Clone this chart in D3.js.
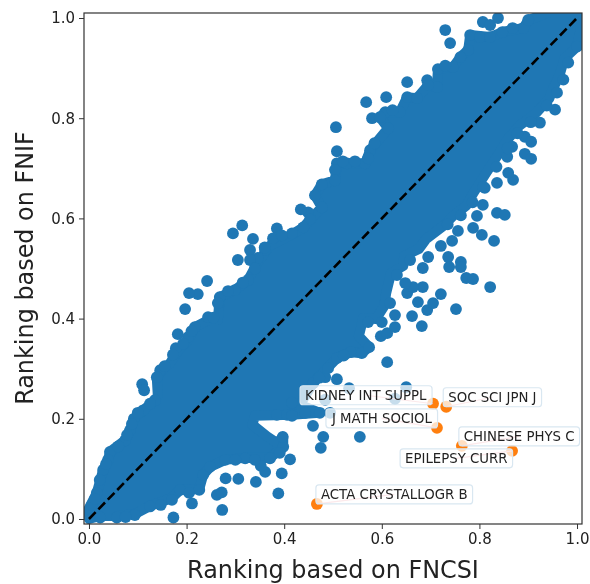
<!DOCTYPE html>
<html lang="en">
  <head>
    <meta charset="UTF-8" />
    <script src="https://d3js.org/d3.v7.min.js"></script>
    <title>Ranking based on FNCSI vs FNIF</title>
    <style>
      body { margin: 0; background: #fff; }
      svg { display: block; filter: blur(0.45px); }
      text { font-family: "DejaVu Sans", sans-serif; fill: #222; }
    </style>
  </head>
  <body>
    <div id="chart-container"></div>

    <script>
      const tickValues = [0, 0.2, 0.4, 0.6, 0.8, 1.0];

      // dense middle of the cloud, too many overlapping dots to read one by one: outline
      const denseOutline = [
        [0,0],[.023,.006],[.057,.006],[.094,.010],[.125,.026],[.170,.042],[.187,.058],[.226,.060],[.234,.088],
        [.248,.104],[.279,.118],[.320,.122],[.357,.122],[.371,.122],[.398,.144],[.398,.164],[.385,.152],[.365,.165],
        [.335,.188],[.340,.206],[.416,.208],[.473,.212],[.432,.228],[.459,.271],[.488,.301],[.508,.321],[.537,.333],
        [.559,.331],[.574,.343],[.553,.365],[.562,.401],[.588,.399],[.605,.425],[.609,.451],[.619,.491],[.644,.505],
        [.646,.525],[.676,.539],[.691,.559],[.726,.585],[.746,.605],[.773,.625],[.788,.651],[.814,.691],[.841,.731],
        [.859,.759],[.882,.785],[.917,.811],[.943,.839],[.951,.859],[.964,.885],[.974,.919],[1.0,.943],[1.006,.971],
        [1.012,1.012],[.945,1.012],[.900,.996],[.890,.980],[.847,.972],[.822,.962],[.781,.966],[.777,.936],[.761,.922],
        [.746,.902],[.715,.898],[.713,.862],[.695,.866],[.672,.840],[.652,.842],[.637,.812],[.607,.812],[.596,.802],
        [.613,.780],[.596,.760],[.576,.736],[.566,.710],[.508,.710],[.504,.676],[.477,.668],[.463,.646],[.477,.622],
        [.453,.598],[.439,.582],[.412,.566],[.371,.546],[.346,.513],[.326,.477],[.299,.457],[.268,.443],[.264,.397],
        [.244,.397],[.217,.383],[.203,.357],[.183,.337],[.166,.311],[.146,.293],[.139,.281],[.141,.247],[.135,.237],
        [.111,.217],[.092,.200],[.084,.177],[.074,.157],[.043,.134],[.039,.118],[.029,.098],[.016,.052],[-.002,.018]
      ];

      // [FNCSI rank, FNIF rank] of the journals that can be told apart at the rim of the cloud
      const journalPoints = [
        [.023,.003],[.057,.003],[.094,.008],[.125,.025],[.170,.038],[.173,.003],[.187,.058],[.211,.031],[.226,.058],
        [.234,.088],[.248,.104],[.262,.048],[.272,.053],[.273,.018],[.279,.118],[.280,.081],[.306,.080],[.320,.121],
        [.342,.074],[.361,.094],[.352,.106],[.371,.121],[.388,.051],[.395,.091],[.412,.119],[.398,.144],[.397,.164],
        [.391,.132],[.385,.208],[.406,.208],[.416,.206],[.416,.232],[.443,.212],[.473,.212],[.494,.212],[.459,.186],
        [.480,.164],[.475,.142],[.555,.164],[.443,.248],[.484,.238],[.533,.261],[.627,.240],[.650,.263],[.459,.271],
        [.484,.283],[.508,.279],[.490,.301],[.508,.321],[.537,.333],[.559,.331],[.574,.343],[.611,.313],[.598,.365],
        [.611,.371],[.627,.383],[.627,.407],[.600,.393],[.572,.393],[.617,.431],[.662,.405],[.682,.385],[.693,.417],
        [.705,.431],[.752,.419],[.721,.449],[.684,.463],[.674,.433],[.652,.451],[.664,.463],[.648,.471],[.631,.487],
        [.658,.517],[.684,.501],[.695,.523],[.721,.545],[.736,.523],[.738,.503],[.762,.513],[.762,.503],[.773,.481],
        [.787,.479],[.822,.463],[.744,.555],[.756,.575],[.787,.581],[.805,.567],[.830,.555],[.795,.605],[.807,.627],
        [.836,.611],[.852,.607],[.869,.677],[.859,.691],[.836,.671],[.811,.661],[.857,.723],[.867,.743],[.893,.763],
        [.906,.753],[.893,.729],[.906,.719],[.924,.791],[.955,.817],[.959,.851],[.972,.877],[.982,.911],[1.0,.943],
        [.807,.992],[.822,.986],[.838,1.0],[.730,.976],[.740,.950],[.781,.966],[.801,.962],[.822,.962],[.847,.972],
        [.890,.980],[.900,.996],[.777,.936],[.761,.922],[.746,.902],[.715,.898],[.713,.862],[.693,.876],[.695,.866],
        [.652,.872],[.652,.842],[.672,.840],[.568,.832],[.609,.842],[.580,.800],[.637,.812],[.607,.812],[.596,.802],
        [.613,.780],[.506,.782],[.508,.734],[.576,.736],[.566,.710],[.529,.710],[.508,.710],[.504,.697],[.504,.676],
        [.477,.668],[.463,.646],[.477,.622],[.449,.612],[.434,.618],[.453,.598],[.439,.582],[.416,.570],[.385,.580],
        [.377,.560],[.361,.537],[.336,.559],[.314,.586],[.295,.570],[.330,.537],[.346,.521],[.330,.517],[.305,.517],
        [.326,.477],[.299,.457],[.268,.443],[.264,.431],[.242,.475],[.223,.449],[.205,.451],[.197,.419],[.244,.403],
        [.217,.383],[.203,.363],[.182,.369],[.178,.341],[.146,.297],[.139,.283],[.109,.269],[.113,.257],[.135,.237],
        [.111,.217],[.092,.200],[.084,.177],[.074,.157],[.043,.134],[.039,.118],[.029,.098],[.016,.052],[.006,.028],
        [.735,.588],[.762,.606],[.786,.632],[.808,.663],[.835,.703],[.858,.740],[.878,.770],[.905,.792],[.938,.825],
        [.395,.566],[.360,.542],[.340,.500],[.315,.472],[.285,.455],[.255,.402],[.210,.375],[.193,.350],[.172,.328],
        [.155,.305],[.125,.230],[.100,.212],[.088,.190],[.078,.168],[.060,.145],[.035,.110],[.022,.078],[.012,.040],
        [.545,.714],[.520,.714],[.572,.720],[.585,.750],[.622,.816],[.730,.905],[.868,.980],[.147,.028],[.205,.052],
        [.300,.118],[.340,.118],[.075,.004],[.522,.326],[.472,.282]
      ];

      const outlierNames = ["KIDNEY INT SUPPL", "SOC SCI JPN J", "J MATH SOCIOL", "CHINESE PHYS C", "EPILEPSY CURR", "ACTA CRYSTALLOGR B"];
      const outlierFNCSI = [0.705, 0.732, 0.713, 0.764, 0.867, 0.467];
      const outlierFNIF = [0.23, 0.224, 0.182, 0.146, 0.136, 0.03];

      // where each label sits relative to its dot, in px
      const labelDx = [-128, 2, -105, 2, -107, 4];
      const labelDy = [-4, -5, -5, -5, 12, -5];

      const blue = "#1f77b4";
      const orange = "#ff7f0e";
      const dotRadius = 5.9;

      const margin = { top: 13, right: 8, bottom: 60, left: 84 };
      const frameRight = 590 - margin.right;
      const frameBottom = 584 - margin.bottom;

      const svg = d3
        .select("#chart-container")
        .append("svg")
        .attr("width", 590)
        .attr("height", 584);

      const x = d3.scaleLinear().domain([-0.0102, 1.0102]).range([margin.left, frameRight]);
      const y = d3.scaleLinear().domain([-0.01, 1.01]).range([frameBottom, margin.top]);

      svg
        .append("clipPath")
        .attr("id", "plot-area")
        .append("rect")
        .attr("x", margin.left)
        .attr("y", margin.top)
        .attr("width", frameRight - margin.left)
        .attr("height", frameBottom - margin.top);

      const plot = svg.append("g").attr("clip-path", "url(#plot-area)");

      const outline = d3
        .line()
        .x((d) => x(d[0]))
        .y((d) => y(d[1]))
        .curve(d3.curveLinearClosed);

      // the outline runs through dot centres, so stroke it a little under one dot wide
      plot
        .append("path")
        .attr("d", outline(denseOutline))
        .attr("fill", blue)
        .attr("stroke", blue)
        .attr("stroke-width", dotRadius * 1.7)
        .attr("stroke-linejoin", "round");

      plot
        .selectAll("circle.journal")
        .data(journalPoints)
        .join("circle")
        .attr("class", "journal")
        .attr("cx", (d) => x(d[0]))
        .attr("cy", (d) => y(d[1]))
        .attr("r", dotRadius)
        .attr("fill", blue);

      plot
        .selectAll("circle.outlier")
        .data(outlierNames)
        .join("circle")
        .attr("class", "outlier")
        .attr("cx", (d, i) => x(outlierFNCSI[i]))
        .attr("cy", (d, i) => y(outlierFNIF[i]))
        .attr("r", dotRadius)
        .attr("fill", orange);

      // diagonal
      plot
        .append("line")
        .attr("x1", x(0))
        .attr("y1", y(0))
        .attr("x2", x(1))
        .attr("y2", y(1))
        .attr("stroke", "#000")
        .attr("stroke-width", 2.6)
        .attr("stroke-dasharray", "9.5,4");

      // labels, box size comes from the text
      const labels = svg
        .selectAll("g.label")
        .data(outlierNames)
        .join("g")
        .attr("class", "label");

      labels.each(function (name, i) {
        const g = d3.select(this);
        const px = x(outlierFNCSI[i]);
        const py = y(outlierFNIF[i]);
        const connector = g.append("line").attr("stroke", "#f2a6ae").attr("stroke-width", 1.2);
        const box = g.append("rect");
        const text = g
          .append("text")
          .attr("x", px + labelDx[i])
          .attr("y", py + labelDy[i])
          .style("font-size", "13.3px")
          .text(name);
        const b = text.node().getBBox();
        connector
          .attr("x1", px)
          .attr("y1", py)
          .attr("x2", b.x + b.width / 2)
          .attr("y2", b.y + b.height / 2);
        box
          .attr("x", b.x - 5)
          .attr("y", b.y - 2)
          .attr("width", b.width + 10)
          .attr("height", b.height + 4)
          .attr("rx", 3)
          .attr("fill", "#fff")
          .attr("fill-opacity", 0.75)
          .attr("stroke", "#d9e7f1")
          .attr("stroke-width", 1.2);
      });

      // axes
      const xAxis = svg
        .append("g")
        .attr("transform", "translate(0," + frameBottom + ")")
        .call(d3.axisBottom(x).tickValues(tickValues).tickFormat(d3.format(".1f")).tickSizeOuter(0).tickSize(5).tickPadding(4));

      const yAxis = svg
        .append("g")
        .attr("transform", "translate(" + margin.left + ",0)")
        .call(d3.axisLeft(y).tickValues(tickValues).tickFormat(d3.format(".1f")).tickSizeOuter(0).tickSize(5).tickPadding(4));

      [xAxis, yAxis].forEach((axis) => {
        axis.select(".domain").remove();
        axis.selectAll("line").attr("stroke", "#333").attr("stroke-width", 1);
        axis.selectAll("text").style("font-size", "15px").style("font-family", '"DejaVu Sans", sans-serif').style("fill", "#222");
      });

      svg
        .append("rect")
        .attr("x", margin.left)
        .attr("y", margin.top)
        .attr("width", frameRight - margin.left)
        .attr("height", frameBottom - margin.top)
        .attr("fill", "none")
        .attr("stroke", "#333")
        .attr("stroke-width", 1.2);

      svg
        .append("text")
        .attr("x", 333)
        .attr("y", 578)
        .attr("text-anchor", "middle")
        .style("font-size", "23.9px")
        .text("Ranking based on FNCSI");

      svg
        .append("text")
        .attr("transform", "translate(33,268) rotate(-90)")
        .attr("text-anchor", "middle")
        .style("font-size", "23.9px")
        .text("Ranking based on FNIF");
    </script>
  </body>
</html>
